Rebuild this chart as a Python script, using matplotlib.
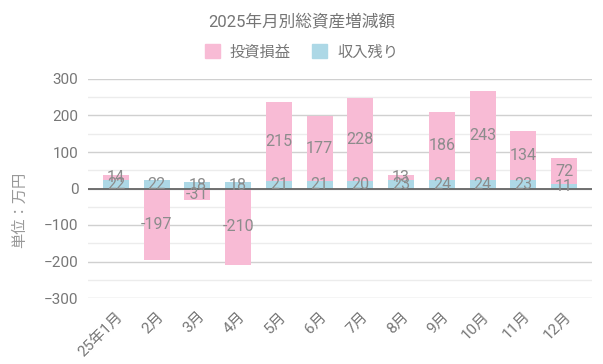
import matplotlib
matplotlib.use("Agg")
import matplotlib.pyplot as plt
from matplotlib.patches import Patch
import numpy as np

plt.rcParams['font.family'] = ['Roboto', 'Noto Sans CJK JP', 'DejaVu Sans']

months = ['25年1月', '2月', '3月', '4月', '5月', '6月', '7月', '8月', '9月', '10月', '11月', '12月']
income = [22, 22, 18, 18, 21, 21, 20, 23, 24, 24, 23, 11]      # 収入残り
invest = [14, -197, -31, -210, 215, 177, 228, 13, 186, 243, 134, 72]  # 投資損益

pink = '#f8bbd5'
blue = '#add8e6'
txt = '#8c8c8c'

fig = plt.figure(figsize=(6.03, 3.64), dpi=100)
ax = fig.add_axes([88/603, 1-298/364, 504/603, 219/364])

x = np.arange(len(months))
w = 0.64
inc = np.array(income)
inv = np.array(invest)
inv_bottom = np.where(inv > 0, inc, 0)

ax.bar(x, inc, w, color=blue, zorder=2)
ax.bar(x, inv, w, bottom=inv_bottom, color=pink, zorder=2)

for i in x:
    ax.text(i, inc[i]/2, str(inc[i]), ha='center', va='center',
            fontsize=11.5, color=txt, zorder=4)
    ax.text(i, inv_bottom[i] + inv[i]/2, str(inv[i]), ha='center', va='center',
            fontsize=11.5, color=txt, zorder=4)

ax.set_xlim(-0.687, 11.687)
ax.set_ylim(-300, 300)
ax.set_yticks(range(-300, 301, 100))
ax.set_yticks(range(-250, 300, 100), minor=True)
ax.grid(axis='y', which='major', color='#d0d0d0', lw=1, zorder=0)
ax.grid(axis='y', which='minor', color='#ececec', lw=1, zorder=0)
ax.axhline(0, color='#666666', lw=1.3, zorder=3)

ax.set_xticks(x)
ax.set_xticklabels(months, rotation=45, ha='right', rotation_mode='anchor')
ax.tick_params(axis='both', which='both', length=0, labelsize=11, labelcolor='#777777')
ax.tick_params(axis='x', pad=8)
ax.tick_params(axis='y', pad=7)
for s in ax.spines.values():
    s.set_visible(False)

fig.text(0.5, 1-21/364, '2025年月別総資産増減額', ha='center', va='center',
         fontsize=12, color='#757575')
fig.text(20/603, 1-210/364, '単位：万円', ha='center', va='center', rotation=90,
         fontsize=11, color='#999999')

handles = [Patch(color=pink, label='投資損益'), Patch(color=blue, label='収入残り')]
leg = fig.legend(handles=handles, loc='center', bbox_to_anchor=(0.5, 1-52/364),
                 ncol=2, frameon=False, fontsize=11, handlelength=1.0, handleheight=1.0,
                 columnspacing=1.4, handletextpad=0.65)
for t in leg.get_texts():
    t.set_color('#777777')

fig.savefig('out.png', dpi=100)
